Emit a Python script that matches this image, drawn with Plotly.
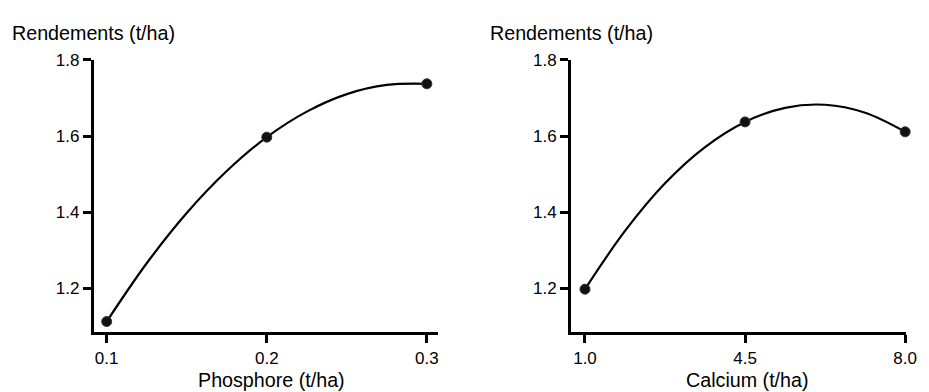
import plotly.graph_objects as go

# Observed data points
phos_x = [0.1, 0.2, 0.3]
phos_y = [1.113, 1.597, 1.737]
calc_x = [1.0, 4.5, 8.0]
calc_y = [1.198, 1.637, 1.611]

# Fitted curves at regular positions
phos_curve_x = [0.1, 0.125, 0.15, 0.175, 0.2, 0.225, 0.25, 0.275, 0.3]
phos_curve_y = [1.113, 1.266, 1.398, 1.508, 1.597, 1.664, 1.710, 1.734, 1.737]
calc_curve_x = [1.0, 1.875, 2.75, 3.625, 4.5, 5.375, 6.25, 7.125, 8.0]
calc_curve_y = [1.198, 1.351, 1.476, 1.571, 1.637, 1.674, 1.682, 1.661, 1.611]

y_ticks = [1.2, 1.4, 1.6, 1.8]
y_ticklabels = ["1.2", "1.4", "1.6", "1.8"]
phos_ticks = [0.1, 0.2, 0.3]
phos_ticklabels = ["0.1", "0.2", "0.3"]
calc_ticks = [1.0, 4.5, 8.0]
calc_ticklabels = ["1.0", "4.5", "8.0"]

y_title = "Rendements (t/ha)"
x_titles = ["Phosphore (t/ha)", "Calcium (t/ha)"]

FONT = "Liberation Sans, Arial, Helvetica, sans-serif"
W, H = 929, 392

fig = go.Figure()

line_style = dict(color="black", width=2.2, shape="spline")
marker_style = dict(color="#111111", size=10, line=dict(color="#333333", width=1))

fig.add_trace(go.Scatter(x=phos_curve_x, y=phos_curve_y, mode="lines",
                         line=line_style, xaxis="x", yaxis="y", hoverinfo="skip"))
fig.add_trace(go.Scatter(x=phos_x, y=phos_y, mode="markers", cliponaxis=False,
                         marker=marker_style, xaxis="x", yaxis="y"))
fig.add_trace(go.Scatter(x=calc_curve_x, y=calc_curve_y, mode="lines",
                         line=line_style, xaxis="x2", yaxis="y2", hoverinfo="skip"))
fig.add_trace(go.Scatter(x=calc_x, y=calc_y, mode="markers", cliponaxis=False,
                         marker=marker_style, xaxis="x2", yaxis="y2"))

ydom = [1 - 331 / H, 1 - 52 / H]
axis_common = dict(showline=True, linecolor="black", linewidth=3,
                   ticks="outside", ticklen=8, tickwidth=3, tickcolor="black",
                   showgrid=False, zeroline=False,
                   tickfont=dict(family=FONT, size=17, color="black"))

fig.update_layout(
    width=W, height=H,
    margin=dict(l=0, r=0, t=0, b=0),
    paper_bgcolor="white", plot_bgcolor="white",
    showlegend=False,
    font=dict(family=FONT, color="black"),
    xaxis=dict(domain=[95 / W, 443 / W], range=[0.092, 0.3068], anchor="y",
               tickvals=phos_ticks, ticktext=phos_ticklabels, **axis_common),
    yaxis=dict(domain=ydom, range=[1.0846, 1.8], anchor="x",
               tickvals=y_ticks, ticktext=y_ticklabels, **axis_common),
    xaxis2=dict(domain=[578 / W, 917 / W], range=[0.6976, 8.0216], anchor="y2",
                tickvals=calc_ticks, ticktext=calc_ticklabels, **axis_common),
    yaxis2=dict(domain=ydom, range=[1.0846, 1.8], anchor="x2",
                tickvals=y_ticks, ticktext=y_ticklabels, **axis_common),
)

ann_font = dict(family=FONT, size=19.7, color="black")
fig.add_annotation(text=y_title, xref="paper", yref="paper", x=10 / W, y=1 - 24.5 / H,
                   xanchor="left", yanchor="middle", showarrow=False, font=ann_font)
fig.add_annotation(text=y_title, xref="paper", yref="paper", x=494 / W, y=1 - 24.5 / H,
                   xanchor="left", yanchor="middle", showarrow=False, font=ann_font)
fig.add_annotation(text=x_titles[0], xref="paper", yref="paper", x=275 / W, y=1 - 380 / H,
                   xanchor="center", yanchor="middle", showarrow=False, font=ann_font)
fig.add_annotation(text=x_titles[1], xref="paper", yref="paper", x=756 / W, y=1 - 380 / H,
                   xanchor="center", yanchor="middle", showarrow=False, font=ann_font)

fig.write_html("out.html")
